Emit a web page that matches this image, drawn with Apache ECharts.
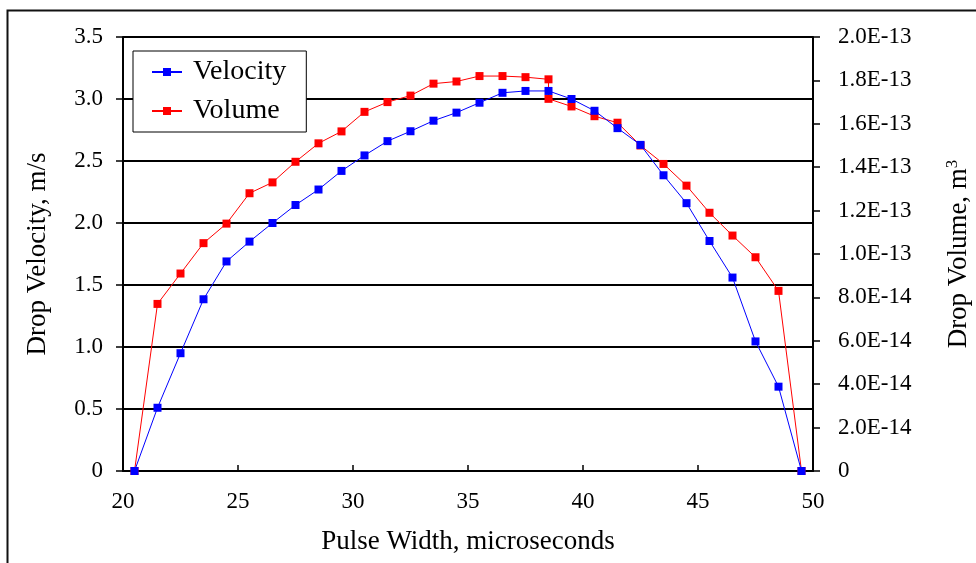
<!DOCTYPE html>
<html>
<head>
<meta charset="utf-8">
<script src="https://cdn.jsdelivr.net/npm/echarts@6/dist/echarts.min.js"></script>
<style>
html,body{margin:0;padding:0;background:#fff;}
#chart{width:976px;height:563px;}
</style>
</head>
<body>
<div id="chart"></div>
<script>
// ---- data ----
const pulseWidth = [20.5, 21.5, 22.5, 23.5, 24.5, 25.5, 26.5, 27.5, 28.5, 29.5,
                    30.5, 31.5, 32.5, 33.5, 34.5, 35.5, 36.5, 37.5, 38.5, 39.5,
                    40.5, 41.5, 42.5, 43.5, 44.5, 45.5, 46.5, 47.5, 48.5, 49.5];
const velocity = [0, 0.51, 0.95, 1.385, 1.69, 1.85, 2.0, 2.145, 2.27, 2.42,
                  2.545, 2.66, 2.74, 2.825, 2.89, 2.97, 3.05, 3.065, 3.065, 3.0,
                  2.905, 2.765, 2.63, 2.385, 2.16, 1.855, 1.56, 1.045, 0.68, 0];
const volumePulse = [20.5, 21.5, 22.5, 23.5, 24.5, 25.5, 26.5, 27.5, 28.5, 29.5,
                     30.5, 31.5, 32.5, 33.5, 34.5, 35.5, 36.5, 37.5, 38.5, 38.5,
                     39.5, 40.5, 41.5, 42.5, 43.5, 44.5, 45.5, 46.5, 47.5, 48.5, 49.5];
const volume = [0, 7.7e-14, 9.1e-14, 10.5e-14, 11.4e-14, 12.8e-14, 13.3e-14, 14.25e-14, 15.1e-14, 15.65e-14,
                16.55e-14, 17.0e-14, 17.3e-14, 17.85e-14, 17.95e-14, 18.2e-14, 18.2e-14, 18.15e-14, 18.05e-14, 17.15e-14,
                16.8e-14, 16.35e-14, 16.05e-14, 15.0e-14, 14.15e-14, 13.15e-14, 11.9e-14, 10.85e-14, 9.85e-14, 8.3e-14, 0];
const seriesNames = ['Velocity', 'Volume'];
const xTitle = 'Pulse Width, microseconds';
const yLeftTitle = 'Drop Velocity, m/s';
const yRightTitle = 'Drop Volume, m{sup|3}';

const FONT = 'Liberation Serif';
const chart = echarts.init(document.getElementById('chart'), null, {renderer: 'canvas'});

const zip = (xs, ys) => xs.map((x, i) => [x, ys[i]]);

chart.setOption({
  animation: false,
  backgroundColor: '#fff',
  textStyle: {fontFamily: FONT, color: '#000'},
  graphic: [{
    type: 'rect', left: 5, top: 8, silent: true, z: -10,
    shape: {x: 0, y: 0, width: 1000, height: 600},
    style: {fill: 'none', stroke: '#111', lineWidth: 2}
  }],
  grid: {left: 123, right: 163, top: 37, bottom: 92, containLabel: false, outerBoundsMode: 'none'},
  legend: {
    orient: 'vertical', left: 133, top: 51,
    data: seriesNames,
    itemWidth: 30, itemHeight: 10, itemGap: 11,
    backgroundColor: '#fff', borderColor: '#000', borderWidth: 1,
    padding: [7, 20, 7, 18], borderRadius: 0,
    textStyle: {fontFamily: FONT, fontSize: 28, color: '#000', padding: [0, 0, 0, 6]}
  },
  xAxis: {
    type: 'value', min: 20, max: 50, interval: 5,
    name: xTitle, nameLocation: 'middle', nameGap: 57,
    nameTextStyle: {fontFamily: FONT, fontSize: 27, color: '#000'},
    axisLine: {onZero: false, lineStyle: {color: '#000', width: 2}},
    axisTick: {inside: true, length: 6, lineStyle: {color: '#000', width: 1.5}},
    axisLabel: {fontFamily: FONT, fontSize: 23, color: '#000', margin: 19},
    splitLine: {show: false}
  },
  yAxis: [{
    type: 'value', min: 0, max: 3.5, interval: 0.5, position: 'left',
    name: yLeftTitle, nameLocation: 'middle', nameGap: 72, nameRotate: 90,
    nameTextStyle: {fontFamily: FONT, fontSize: 27, color: '#000'},
    axisLine: {show: true, lineStyle: {color: '#000', width: 2}},
    axisTick: {show: true, length: 7, lineStyle: {color: '#000', width: 1.5}},
    axisLabel: {fontFamily: FONT, fontSize: 23, color: '#000', margin: 20,
      formatter: v => v === 0 ? '0' : v.toFixed(1)},
    splitLine: {show: true, lineStyle: {color: '#000', width: 2}}
  }, {
    type: 'value', min: 0, max: 2e-13, interval: 2e-14, position: 'right',
    name: yRightTitle, nameLocation: 'middle', nameGap: 131, nameRotate: 90,
    nameTextStyle: {fontFamily: FONT, fontSize: 27, color: '#000',
      rich: {sup: {fontFamily: FONT, fontSize: 17, color: '#000', verticalAlign: 'top', padding: [0, 0, 12, 0]}}},
    axisLine: {show: true, lineStyle: {color: '#000', width: 2}},
    axisTick: {show: true, length: 7, lineStyle: {color: '#000', width: 1.5}},
    axisLabel: {fontFamily: FONT, fontSize: 23, color: '#000', margin: 25,
      formatter: v => v === 0 ? '0' : v.toExponential(1).toUpperCase()},
    splitLine: {show: false}
  }],
  series: [{
    name: seriesNames[0], type: 'line', yAxisIndex: 0,
    data: zip(pulseWidth, velocity),
    symbol: 'rect', symbolSize: 8, showAllSymbol: true,
    lineStyle: {color: '#0000ff', width: 1},
    itemStyle: {color: '#0000ff'},
    z: 3
  }, {
    name: seriesNames[1], type: 'line', yAxisIndex: 1,
    data: zip(volumePulse, volume),
    symbol: 'rect', symbolSize: 8, showAllSymbol: true,
    lineStyle: {color: '#ff0000', width: 1},
    itemStyle: {color: '#ff0000'},
    z: 2
  }]
});
</script>
</body>
</html>
